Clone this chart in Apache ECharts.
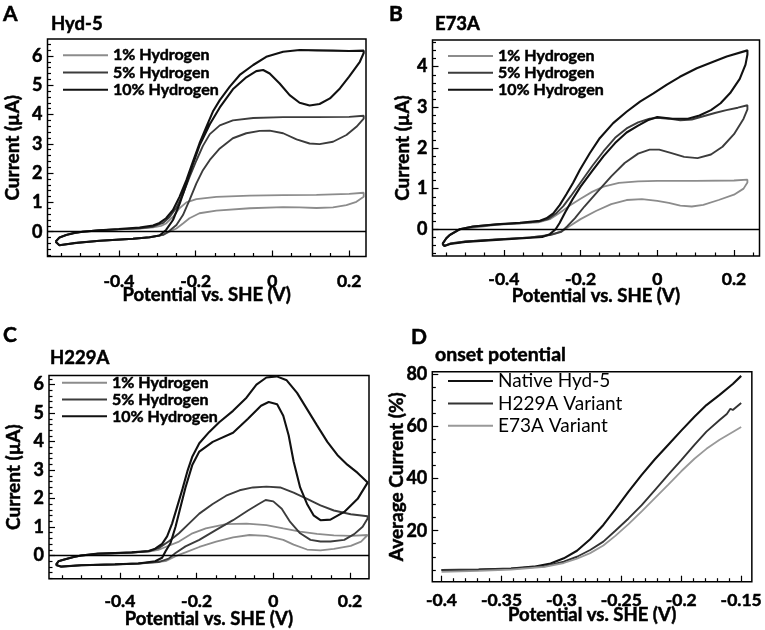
<!DOCTYPE html>
<html>
<head>
<meta charset="utf-8">
<script src="https://cdn.jsdelivr.net/npm/echarts@6/dist/echarts.min.js"></script>
<style>
  html, body { margin: 0; padding: 0; background: #fff; }
  #chart { width: 765px; height: 630px; }
</style>
</head>
<body>
<div id="chart"></div>
<script>
// legend names
const cvNames = ['1% Hydrogen', '5% Hydrogen', '10% Hydrogen'];
const onsetNames = ['Native Hyd-5', 'H229A Variant', 'E73A Variant'];

// tick values
const cvMajorX = [-0.4, -0.2, 0, 0.2];
const cvMinorXA = [-0.55, -0.5, -0.45, -0.35, -0.3, -0.25, -0.15, -0.1, -0.05, 0.05, 0.1, 0.15];
const cvMinorXB = [-0.55, -0.5, -0.45, -0.35, -0.3, -0.25, -0.15, -0.1, -0.05, 0.05, 0.1, 0.15, 0.25];
const cvMajorY6 = [0, 1, 2, 3, 4, 5, 6];
const cvMajorY4 = [0, 1, 2, 3, 4];
const onsetMajorX = [-0.4, -0.35, -0.3, -0.25, -0.2, -0.15];
const onsetMajorY = [20, 40, 60, 80];

// Panel A: Hyd-5 (potential V, current uA), forward branch then return branch
const hyd5_1 = [[-0.565,-0.34],[-0.555,-0.2],[-0.537,-0.11],[-0.515,-0.04],[-0.494,0.0],[-0.45,0.05],[-0.40,0.08],[-0.346,0.11],[-0.311,0.15],[-0.29,0.2],[-0.277,0.28],[-0.259,0.51],[-0.242,0.8],[-0.224,1.0],[-0.198,1.11],[-0.146,1.19],[-0.059,1.23],[0.028,1.25],[0.115,1.26],[0.2,1.29],[0.238,1.33],
  [0.238,1.19],[0.219,1.02],[0.193,0.91],[0.158,0.83],[0.115,0.81],[0.071,0.83],[0.028,0.84],[-0.059,0.8],[-0.146,0.72],[-0.19,0.63],[-0.216,0.46],[-0.233,0.28],[-0.25,0.11],[-0.268,0.0],[-0.285,-0.11],[-0.32,-0.19],[-0.363,-0.24],[-0.45,-0.31],[-0.511,-0.38],[-0.555,-0.46],[-0.565,-0.34]];
const hyd5_5 = [[-0.565,-0.34],[-0.555,-0.2],[-0.537,-0.11],[-0.515,-0.04],[-0.494,0.0],[-0.45,0.05],[-0.40,0.08],[-0.346,0.12],[-0.311,0.17],[-0.285,0.3],[-0.268,0.5],[-0.25,0.82],[-0.233,1.28],[-0.216,1.86],[-0.198,2.43],[-0.181,2.93],[-0.163,3.33],[-0.137,3.63],[-0.103,3.8],[-0.05,3.88],[0.028,3.91],[0.115,3.91],[0.2,3.92],[0.238,3.96],
  [0.238,3.86],[0.219,3.58],[0.193,3.3],[0.158,3.07],[0.123,2.99],[0.097,3.01],[0.063,3.15],[0.028,3.36],[-0.007,3.45],[-0.033,3.44],[-0.068,3.36],[-0.103,3.19],[-0.137,2.84],[-0.163,2.45],[-0.181,2.1],[-0.198,1.65],[-0.216,1.08],[-0.233,0.57],[-0.25,0.23],[-0.268,0.03],[-0.285,-0.11],[-0.32,-0.19],[-0.363,-0.24],[-0.45,-0.31],[-0.511,-0.38],[-0.555,-0.46],[-0.565,-0.34]];
const hyd5_10 = [[-0.565,-0.34],[-0.555,-0.2],[-0.537,-0.11],[-0.515,-0.04],[-0.494,0.0],[-0.45,0.05],[-0.40,0.09],[-0.346,0.14],[-0.311,0.21],[-0.294,0.3],[-0.277,0.46],[-0.259,0.74],[-0.242,1.19],[-0.224,1.76],[-0.207,2.39],[-0.19,3.01],[-0.172,3.58],[-0.155,4.1],[-0.137,4.49],[-0.111,4.95],[-0.085,5.35],[-0.05,5.69],[-0.016,5.97],[0.028,6.14],[0.071,6.2],[0.115,6.19],[0.158,6.18],[0.2,6.17],[0.238,6.18],
  [0.238,6.1],[0.228,5.8],[0.2,5.29],[0.176,4.89],[0.15,4.55],[0.123,4.36],[0.097,4.31],[0.071,4.4],[0.045,4.66],[0.019,5.06],[-0.007,5.4],[-0.024,5.52],[-0.042,5.48],[-0.068,5.27],[-0.103,4.86],[-0.137,4.24],[-0.163,3.67],[-0.19,2.94],[-0.207,2.31],[-0.224,1.63],[-0.242,0.94],[-0.259,0.4],[-0.277,0.06],[-0.294,-0.13],[-0.32,-0.19],[-0.363,-0.24],[-0.45,-0.31],[-0.511,-0.38],[-0.555,-0.46],[-0.565,-0.34]];

// Panel B: E73A
const e73a_1 = [[-0.56,-0.36],[-0.55,-0.22],[-0.541,-0.14],[-0.515,0.0],[-0.42,0.11],[-0.31,0.17],[-0.28,0.25],[-0.255,0.4],[-0.23,0.57],[-0.2,0.75],[-0.17,0.92],[-0.14,1.05],[-0.1,1.14],[-0.05,1.18],[0.0,1.19],[0.1,1.19],[0.2,1.2],[0.235,1.22],
  [0.235,1.15],[0.225,1.0],[0.2,0.85],[0.16,0.72],[0.12,0.6],[0.09,0.56],[0.06,0.58],[0.03,0.65],[0.0,0.7],[-0.04,0.74],[-0.08,0.72],[-0.12,0.62],[-0.16,0.45],[-0.2,0.25],[-0.23,0.07],[-0.245,-0.03],[-0.27,-0.12],[-0.3,-0.17],[-0.35,-0.21],[-0.42,-0.25],[-0.5,-0.3],[-0.54,-0.35],[-0.555,-0.41],[-0.56,-0.36]];
const e73a_5 = [[-0.56,-0.36],[-0.55,-0.22],[-0.541,-0.14],[-0.515,0.0],[-0.48,0.07],[-0.42,0.12],[-0.36,0.15],[-0.31,0.19],[-0.285,0.25],[-0.265,0.38],[-0.245,0.57],[-0.225,0.82],[-0.2,1.15],[-0.17,1.55],[-0.14,1.92],[-0.11,2.25],[-0.08,2.48],[-0.05,2.63],[-0.02,2.72],[0.0,2.74],[0.03,2.72],[0.06,2.68],[0.09,2.7],[0.12,2.78],[0.15,2.86],[0.18,2.93],[0.21,2.99],[0.235,3.05],
  [0.235,2.95],[0.225,2.72],[0.2,2.34],[0.17,2.03],[0.14,1.84],[0.105,1.75],[0.07,1.78],[0.035,1.88],[0.005,1.96],[-0.02,1.96],[-0.05,1.86],[-0.085,1.63],[-0.12,1.3],[-0.155,0.93],[-0.19,0.56],[-0.215,0.27],[-0.235,0.07],[-0.25,-0.06],[-0.28,-0.14],[-0.33,-0.2],[-0.42,-0.25],[-0.5,-0.3],[-0.54,-0.35],[-0.555,-0.41],[-0.56,-0.36]];
const e73a_10 = [[-0.56,-0.36],[-0.55,-0.22],[-0.541,-0.14],[-0.515,0.0],[-0.48,0.07],[-0.419,0.12],[-0.358,0.16],[-0.306,0.21],[-0.289,0.27],[-0.271,0.39],[-0.254,0.6],[-0.237,0.86],[-0.219,1.15],[-0.202,1.46],[-0.176,1.87],[-0.15,2.24],[-0.115,2.61],[-0.08,2.89],[-0.045,3.14],[-0.01,3.34],[0.024,3.55],[0.059,3.75],[0.103,3.96],[0.146,4.12],[0.181,4.25],[0.235,4.4],
  [0.235,4.3],[0.23,4.05],[0.215,3.7],[0.19,3.35],[0.165,3.1],[0.14,2.93],[0.11,2.8],[0.08,2.72],[0.04,2.72],[0.0,2.76],[-0.025,2.68],[-0.05,2.55],[-0.08,2.38],[-0.11,2.12],[-0.14,1.8],[-0.17,1.43],[-0.2,1.05],[-0.22,0.75],[-0.24,0.42],[-0.255,0.15],[-0.265,0.0],[-0.28,-0.12],[-0.3,-0.19],[-0.35,-0.22],[-0.42,-0.26],[-0.5,-0.31],[-0.54,-0.36],[-0.555,-0.41],[-0.56,-0.36]];

// Panel C: H229A
const h229a_1 = [[-0.567,-0.33],[-0.56,-0.2],[-0.545,-0.14],[-0.52,-0.05],[-0.501,0.0],[-0.413,0.08],[-0.325,0.14],[-0.3,0.2],[-0.281,0.3],[-0.246,0.49],[-0.211,0.78],[-0.176,0.95],[-0.123,1.1],[-0.07,1.12],[-0.018,1.07],[0.026,0.95],[0.07,0.84],[0.114,0.76],[0.158,0.71],[0.202,0.69],[0.246,0.72],
  [0.246,0.67],[0.229,0.49],[0.202,0.34],[0.158,0.23],[0.123,0.18],[0.088,0.21],[0.053,0.38],[0.026,0.55],[-0.018,0.69],[-0.062,0.72],[-0.105,0.64],[-0.149,0.49],[-0.193,0.3],[-0.229,0.11],[-0.255,-0.02],[-0.281,-0.2],[-0.352,-0.28],[-0.413,-0.31],[-0.501,-0.34],[-0.554,-0.39],[-0.567,-0.33]];
const h229a_5 = [[-0.567,-0.33],[-0.56,-0.2],[-0.545,-0.14],[-0.52,-0.05],[-0.501,0.0],[-0.457,0.06],[-0.413,0.08],[-0.369,0.1],[-0.325,0.15],[-0.299,0.26],[-0.273,0.49],[-0.246,0.78],[-0.22,1.12],[-0.193,1.47],[-0.158,1.81],[-0.123,2.1],[-0.088,2.29],[-0.053,2.39],[-0.018,2.42],[0.018,2.39],[0.053,2.21],[0.088,1.99],[0.123,1.76],[0.158,1.58],[0.202,1.45],[0.246,1.38],
  [0.246,1.3],[0.233,1.01],[0.211,0.75],[0.185,0.55],[0.149,0.49],[0.123,0.49],[0.097,0.55],[0.07,0.78],[0.044,1.18],[0.022,1.64],[0.0,1.9],[-0.02,1.95],[-0.038,1.81],[-0.066,1.58],[-0.105,1.24],[-0.149,0.9],[-0.193,0.55],[-0.229,0.32],[-0.255,0.09],[-0.273,-0.11],[-0.299,-0.23],[-0.352,-0.28],[-0.413,-0.31],[-0.501,-0.34],[-0.554,-0.39],[-0.567,-0.33]];
const h229a_10 = [[-0.567,-0.33],[-0.56,-0.2],[-0.545,-0.14],[-0.52,-0.05],[-0.501,0.0],[-0.457,0.07],[-0.413,0.09],[-0.369,0.11],[-0.325,0.16],[-0.308,0.24],[-0.29,0.41],[-0.277,0.67],[-0.264,1.12],[-0.251,1.7],[-0.237,2.33],[-0.224,2.96],[-0.211,3.48],[-0.193,3.94],[-0.167,4.34],[-0.141,4.68],[-0.105,5.08],[-0.07,5.54],[-0.044,6.0],[-0.018,6.25],[0.009,6.29],[0.035,6.15],[0.062,5.71],[0.088,5.14],[0.114,4.57],[0.141,3.99],[0.167,3.53],[0.193,3.19],[0.22,2.9],[0.246,2.56],
  [0.246,2.5],[0.22,1.99],[0.185,1.53],[0.149,1.26],[0.123,1.24],[0.105,1.41],[0.088,1.81],[0.07,2.39],[0.053,3.3],[0.04,4.22],[0.026,4.91],[0.01,5.31],[-0.012,5.39],[-0.032,5.26],[-0.066,4.8],[-0.105,4.31],[-0.158,3.99],[-0.193,3.65],[-0.211,3.19],[-0.229,2.39],[-0.242,1.7],[-0.255,1.01],[-0.268,0.44],[-0.281,0.15],[-0.29,-0.08],[-0.308,-0.2],[-0.352,-0.28],[-0.413,-0.31],[-0.501,-0.34],[-0.554,-0.39],[-0.567,-0.33]];

// Panel D: onset potential (V, average current %)
const onsetNative = [[-0.4,4.9],[-0.369,5.1],[-0.342,5.5],[-0.323,6.2],[-0.309,7.4],[-0.298,9.4],[-0.287,12.3],[-0.276,16.7],[-0.265,22.2],[-0.255,28.2],[-0.244,35.0],[-0.233,41.4],[-0.222,47.4],[-0.211,52.9],[-0.2,58.4],[-0.189,63.7],[-0.179,68.2],[-0.168,72.1],[-0.157,76.3],[-0.15,79.4]];
const onsetH229A = [[-0.4,4.9],[-0.369,5.0],[-0.342,5.4],[-0.314,6.3],[-0.298,8.1],[-0.287,10.0],[-0.276,12.6],[-0.265,15.8],[-0.255,20.0],[-0.244,24.7],[-0.233,29.8],[-0.222,35.6],[-0.211,41.4],[-0.2,47.1],[-0.189,52.9],[-0.179,58.0],[-0.168,62.5],[-0.162,64.8],[-0.159,66.8],[-0.157,66.3],[-0.15,69.0]];
const onsetE73A = [[-0.4,4.2],[-0.369,4.6],[-0.342,5.1],[-0.314,6.1],[-0.298,7.6],[-0.287,9.3],[-0.276,11.4],[-0.265,14.3],[-0.255,18.0],[-0.244,22.5],[-0.233,27.4],[-0.222,32.5],[-0.211,37.6],[-0.2,42.8],[-0.189,47.6],[-0.179,51.4],[-0.168,54.9],[-0.157,57.9],[-0.15,59.8]];

const FONT = 'Lato';
const colorsCV = ['#8c8c8c', '#3c3c3c', '#111111'];
const colorsOnset = ['#111111', '#333333', '#999999'];

function range(from, to, step, skip) {
    // tick positions, skipping the major ones
    var out = [];
    var n = Math.round((to - from) / step);
    for (var i = 0; i <= n; i++) {
        var v = +(from + i * step).toFixed(4);
        if (skip.indexOf(v) < 0) out.push(v);
    }
    return out;
}

var tickLine = { color: '#000', width: 1.2 };

// a thin outline makes Lato Bold look as heavy as the original bold face
function boldText(size) {
    return { fontFamily: FONT, fontSize: size, fontWeight: 'bold', color: '#000',
        textBorderColor: '#000', textBorderWidth: 0.5 };
}

function xAxisPair(gi, min, max, major, minor, margin, nameGap) {
    return [
        {
            type: 'value', gridIndex: gi, min: min, max: max, position: 'bottom',
            name: 'Potential vs. SHE (V)', nameLocation: 'middle', nameGap: nameGap, nameMoveOverlap: false,
            nameTextStyle: boldText(18.5),
            axisLine: { show: false, onZero: false },
            axisTick: { inside: true, length: 6, customValues: major, lineStyle: tickLine },
            axisLabel: Object.assign({ customValues: major, margin: margin }, boldText(17.5)),
            splitLine: { show: false }
        },
        {
            type: 'value', gridIndex: gi, min: min, max: max, position: 'bottom',
            axisLine: { show: false, onZero: false },
            axisTick: { inside: true, length: 3.5, customValues: minor, lineStyle: tickLine },
            axisLabel: { show: false },
            splitLine: { show: false }
        }
    ];
}

function yAxisPair(gi, min, max, major, minor, name, nameGap) {
    return [
        {
            type: 'value', gridIndex: gi, min: min, max: max, position: 'left',
            name: name, nameLocation: 'middle', nameGap: nameGap, nameMoveOverlap: false,
            nameTextStyle: boldText(19),
            axisLine: { show: false, onZero: false },
            axisTick: { inside: true, length: 6, customValues: major, lineStyle: tickLine },
            axisLabel: Object.assign({ customValues: major, margin: 5 }, boldText(18)),
            splitLine: { show: false }
        },
        {
            type: 'value', gridIndex: gi, min: min, max: max, position: 'left',
            axisLine: { show: false, onZero: false },
            axisTick: { inside: true, length: 3.5, customValues: minor, lineStyle: tickLine },
            axisLabel: { show: false },
            splitLine: { show: false }
        }
    ];
}

function line(name, data, gi, color, width) {
    return {
        name: name, type: 'line', data: data, xAxisIndex: gi * 2, yAxisIndex: gi * 2,
        symbol: 'none', showSymbol: false, silent: true,
        lineStyle: { color: color, width: width }, itemStyle: { color: color }
    };
}

function zeroLine(gi) {
    return {
        type: 'line', data: [], xAxisIndex: gi * 2, yAxisIndex: gi * 2, silent: true,
        markLine: {
            silent: true, symbol: ['none', 'none'], label: { show: false },
            lineStyle: { color: '#000', width: 1.3, type: 'solid' },
            data: [{ yAxis: 0 }]
        }
    };
}

function legendAt(names, left, top, text, rowH, gap) {
    text.lineHeight = rowH;
    return {
        data: names, left: left, top: top, orient: 'vertical', icon: 'rect',
        itemWidth: 45, itemHeight: 2, itemGap: gap, selectedMode: false,
        textStyle: text
    };
}

function label(text, left, top, size) {
    return { text: text, left: left, top: top, padding: 0, textStyle: boldText(size) };
}

var minorCVY6 = range(-0.8, 6.4, 0.2, cvMajorY6);
var minorCVY4 = range(-0.6, 4.6, 0.2, cvMajorY4);
var minorOnsetX = range(-0.4, -0.15, 0.01, onsetMajorX);
var minorOnsetY = range(5, 80, 5, onsetMajorY);

var option = {
    animation: false,
    backgroundColor: '#fff',
    title: [
        label('A', 3, 4, 21), label('Hyd-5', 51, 15, 18.5),
        label('B', 389, 4, 21), label('E73A', 435, 15, 18.5),
        label('C', 3, 325, 21), label('H229A', 50, 349, 18.5),
        label('D', 411, 327, 21), label('onset potential', 435, 345, 19.5)
    ],
    legend: [
        legendAt(cvNames, 58, 42, boldText(16), 16, 0.7),
        legendAt(cvNames, 443, 42.7, boldText(16), 16, 0.4),
        legendAt(cvNames, 57, 369.5, boldText(16), 16, 0.3),
        legendAt(onsetNames, 443, 366.5, { fontFamily: FONT, fontSize: 19, color: '#000' }, 19, 3.4)
    ],
    grid: [
        { left: 47.5, top: 39, width: 318.5, height: 217.5, show: true, borderColor: '#000', borderWidth: 1.5 },
        { left: 432.5, top: 40, width: 327, height: 216, show: true, borderColor: '#000', borderWidth: 1.5 },
        { left: 49, top: 375.5, width: 320, height: 206.5, show: true, borderColor: '#000', borderWidth: 1.5 },
        { left: 432.3, top: 371.7, width: 327, height: 210, show: true, borderColor: '#000', borderWidth: 1.5 }
    ],
    xAxis: [].concat(
        xAxisPair(0, -0.586, 0.244, cvMajorX, cvMinorXA, 15.5, 29.5),
        xAxisPair(1, -0.586, 0.2665, cvMajorX, cvMinorXB, 14, 30.5),
        xAxisPair(2, -0.585, 0.2496, cvMajorX, cvMinorXA, 13.5, 31),
        xAxisPair(3, -0.4077, -0.1411, onsetMajorX, minorOnsetX, 10, 23.5)
    ),
    yAxis: [].concat(
        yAxisPair(0, -0.846, 6.577, cvMajorY6, minorCVY6, 'Current (\u00b5A)', 25),
        yAxisPair(1, -0.657, 4.655, cvMajorY4, minorCVY4, 'Current (\u00b5A)', 20),
        yAxisPair(2, -0.816, 6.32, cvMajorY6, minorCVY6, 'Current (\u00b5A)', 26),
        yAxisPair(3, 0.43, 81, onsetMajorY, minorOnsetY, 'Average Current (%)', 26)
    ),
    series: [
        zeroLine(0), zeroLine(1), zeroLine(2),
        line(cvNames[0], hyd5_1, 0, colorsCV[0], 1.8),
        line(cvNames[1], hyd5_5, 0, colorsCV[1], 1.9),
        line(cvNames[2], hyd5_10, 0, colorsCV[2], 2.1),
        line(cvNames[0], e73a_1, 1, colorsCV[0], 1.8),
        line(cvNames[1], e73a_5, 1, colorsCV[1], 1.9),
        line(cvNames[2], e73a_10, 1, colorsCV[2], 2.1),
        line(cvNames[0], h229a_1, 2, colorsCV[0], 1.8),
        line(cvNames[1], h229a_5, 2, colorsCV[1], 1.9),
        line(cvNames[2], h229a_10, 2, colorsCV[2], 2.1),
        line(onsetNames[0], onsetNative, 3, colorsOnset[0], 2.1),
        line(onsetNames[1], onsetH229A, 3, colorsOnset[1], 1.9),
        line(onsetNames[2], onsetE73A, 3, colorsOnset[2], 1.8)
    ]
};

var chart = echarts.init(document.getElementById('chart'), null, { renderer: 'canvas' });
chart.setOption(option);
</script>
</body>
</html>
